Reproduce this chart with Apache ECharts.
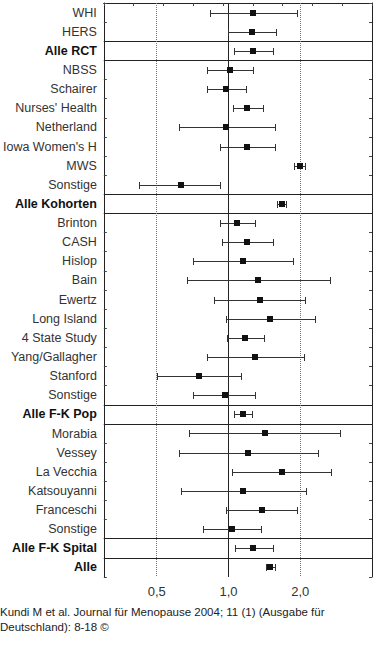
<!DOCTYPE html>
<html>
<head>
<meta charset="utf-8">
<script src="https://cdn.jsdelivr.net/npm/echarts@6/dist/echarts.min.js"></script>
<style>
html,body{margin:0;padding:0;background:#fff;}
#chart{width:375px;height:661px;}
</style>
</head>
<body>
<div id="chart"></div>
<script>
// ---- data ----
var categories = ['WHI','HERS','Alle RCT','NBSS','Schairer',"Nurses' Health",'Netherland',"Iowa Women's H",'MWS','Sonstige',
  'Alle Kohorten','Brinton','CASH','Hislop','Bain','Ewertz','Long Island','4 State Study','Yang/Gallagher','Stanford','Sonstige',
  'Alle F-K Pop','Morabia','Vessey','La Vecchia','Katsouyanni','Franceschi','Sonstige','Alle F-K Spital','Alle'];
var isSummary = [false,false,true,false,false,false,false,false,false,false,
  true,false,false,false,false,false,false,false,false,false,false,
  true,false,false,false,false,false,false,true,true];
var pointEst = [1.27,1.26,1.27,1.01,0.98,1.20,0.98,1.20,2.00,0.63,
  1.67,1.09,1.20,1.15,1.33,1.36,1.50,1.17,1.29,0.75,0.97,
  1.15,1.42,1.21,1.67,1.15,1.38,1.03,1.27,1.49];
var lowerCI = [0.84,1.00,1.05,0.81,0.81,1.04,0.62,0.92,1.88,0.42,
  1.60,0.92,0.94,0.71,0.67,0.87,0.98,0.99,0.81,0.50,0.71,
  1.05,0.68,0.62,1.03,0.63,0.98,0.78,1.07,1.44];
var upperCI = [1.94,1.59,1.53,1.27,1.18,1.40,1.57,1.57,2.10,0.92,
  1.75,1.29,1.54,1.86,2.66,2.09,2.30,1.41,2.07,1.13,1.29,
  1.26,2.95,2.38,2.70,2.12,1.93,1.37,1.53,1.57];
var tickValues = [0.5, 1, 2];
var tickLabels = ['0,5', '1,0', '2,0'];
var caption = 'Kundi M et al. Journal für Menopause 2004; 11 (1) (Ausgabe für\nDeutschland): 8-18 ©';

// ---- derived ----
var FONT = '"Liberation Sans", Arial, sans-serif';
var barData = categories.map(function (c, i) { return [lowerCI[i], pointEst[i], upperCI[i], i]; });
var sepLines = [];
isSummary.forEach(function (s, i) {
  if (s) {
    if (sepLines.indexOf(i) < 0) sepLines.push(i);
    if (i + 1 < categories.length && sepLines.indexOf(i + 1) < 0) sepLines.push(i + 1);
  }
});
var refLines = tickValues.map(function (v) {
  var main = v === 1;
  return { xAxis: v, lineStyle: { type: main ? 'solid' : 'dotted', color: main ? '#222' : '#777', width: 1 } };
});

var chart = echarts.init(document.getElementById('chart'), null, { renderer: 'svg' });
chart.setOption({
  animation: false,
  backgroundColor: '#fff',
  grid: { left: 103, top: 3, width: 269, height: 574, containLabel: false },
  xAxis: [
    {
      type: 'log', logBase: 2, min: 0.3, max: 4, position: 'bottom',
      axisLine: { show: true, lineStyle: { color: '#222', width: 1 } },
      axisTick: { show: false },
      splitLine: { show: false },
      axisLabel: {
        margin: 8, fontSize: 13, fontFamily: FONT, color: '#333',
        showMinLabel: false, showMaxLabel: false,
        formatter: function (v) {
          for (var k = 0; k < tickValues.length; k++) {
            if (Math.abs(v - tickValues[k]) < 1e-6) return tickLabels[k];
          }
          return '';
        }
      }
    },
    {
      type: 'value', min: 0, max: 9, interval: 1, position: 'top',
      axisLine: { show: true, lineStyle: { color: '#222', width: 1 } },
      axisTick: { show: true, inside: true, length: 3, lineStyle: { color: '#444' } },
      axisLabel: { show: false },
      splitLine: { show: false }
    }
  ],
  yAxis: [
    {
      type: 'category', data: categories, inverse: true, position: 'left',
      axisLine: { show: true, lineStyle: { color: '#222', width: 1 } },
      axisTick: { show: true, inside: true, length: 3, interval: 0, lineStyle: { color: '#444' } },
      splitLine: { show: false },
      axisLabel: {
        interval: 0, margin: 7,
        formatter: function (val, idx) { return isSummary[idx] ? '{b|' + val + '}' : '{n|' + val + '}'; },
        rich: {
          n: { fontSize: 12.5, fontFamily: FONT, color: '#333' },
          b: { fontSize: 12.5, fontFamily: FONT, color: '#111', fontWeight: 'bold' }
        }
      }
    },
    {
      type: 'category', data: categories, inverse: true, position: 'right',
      axisLine: { show: true, lineStyle: { color: '#222', width: 1 } },
      axisTick: { show: true, inside: true, length: 3, interval: 0, lineStyle: { color: '#444' } },
      axisLabel: { show: false },
      splitLine: { show: false }
    },
    {
      type: 'value', min: 0, max: categories.length, inverse: true, show: false
    }
  ],
  series: [
    {
      type: 'line', xAxisIndex: 0, yAxisIndex: 2, data: [], silent: true, z: 2,
      markLine: {
        silent: true, symbol: 'none', label: { show: false },
        lineStyle: { color: '#222', width: 1, type: 'solid' },
        data: sepLines.map(function (v) { return { yAxis: v }; })
      }
    },
    {
      type: 'line', xAxisIndex: 0, yAxisIndex: 2, data: [], silent: true, z: 2,
      markLine: {
        silent: true, symbol: 'none', label: { show: false },
        data: refLines
      }
    },
    {
      type: 'custom', xAxisIndex: 0, yAxisIndex: 0, z: 10,
      encode: { x: [0, 1, 2], y: 3 },
      data: barData,
      renderItem: function (params, api) {
        var idx = api.value(3);
        var pLo = api.coord([api.value(0), idx]);
        var pPt = api.coord([api.value(1), idx]);
        var pHi = api.coord([api.value(2), idx]);
        var y = Math.round(pPt[1]) + 0.5;
        var xl = Math.round(pLo[0]) + 0.5, xh = Math.round(pHi[0]) + 0.5, xp = Math.round(pPt[0]);
        var st = { stroke: '#333', lineWidth: 1 };
        return {
          type: 'group',
          children: [
            { type: 'line', shape: { x1: xl, y1: y, x2: xh, y2: y }, style: st },
            { type: 'line', shape: { x1: xl, y1: y - 3.5, x2: xl, y2: y + 3.5 }, style: st },
            { type: 'line', shape: { x1: xh, y1: y - 3.5, x2: xh, y2: y + 3.5 }, style: st },
            { type: 'rect', shape: { x: xp - 3, y: y - 3.5, width: 6, height: 6 }, style: { fill: '#111' } }
          ]
        };
      }
    }
  ],
  graphic: [
    {
      type: 'text', left: 0, top: 604,
      style: { text: caption, font: '11.5px ' + FONT, lineHeight: 15.5, fill: '#222' }
    }
  ]
});
</script>
</body>
</html>
